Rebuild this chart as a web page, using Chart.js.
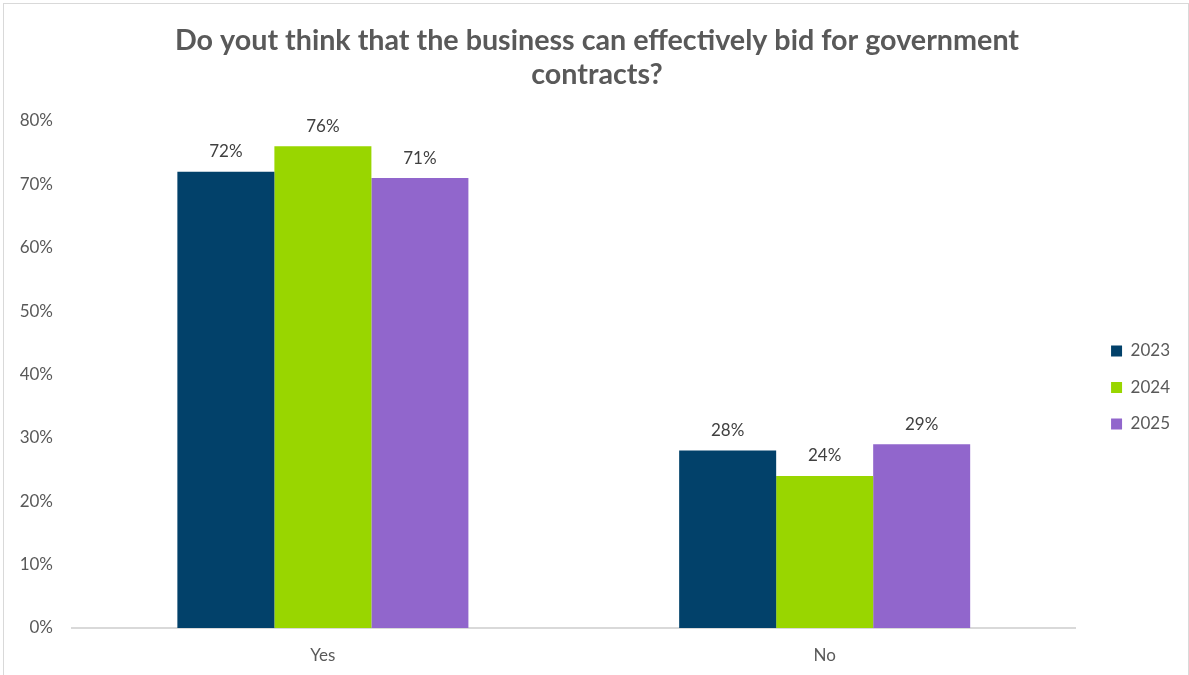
<!DOCTYPE html>
<html>
<head>
<meta charset="utf-8">
<title>Government contracts survey</title>
<script src="https://cdn.jsdelivr.net/npm/chart.js@4"></script>
<style>
    html, body { margin: 0; padding: 0; background: #fff; }
    #wrap { position: relative; width: 1189px; height: 675px; }
    #frame {
        position: absolute; left: 3px; top: 3px; width: 1184px; height: 680px;
        border: 1px solid #d9d9d9; pointer-events: none;
    }
</style>
</head>
<body>
<div id="wrap">
    <canvas id="surveyChart" width="1189" height="675"></canvas>
    <div id="frame"></div>
</div>
<script>
const categories = ['Yes', 'No'];
const years = ['2023', '2024', '2025'];
const values2023 = [72, 28];
const values2024 = [76, 24];
const values2025 = [71, 29];
const yearColors = ['#02416a', '#99d600', '#9166cc'];
const titleLines = ['Do yout think that the business can effectively bid for government', 'contracts?'];

const FONT = 'Lato';
const TEXT_GRAY = '#595959';
const TITLE_SIZE = 28.7;

// percentage labels above every bar
const barLabels = {
    id: 'barLabels',
    afterDatasetsDraw(chart) {
        const ctx = chart.ctx;
        ctx.save();
        ctx.font = '17px ' + FONT;
        ctx.fillStyle = '#404040';
        ctx.textAlign = 'center';
        ctx.textBaseline = 'middle';
        chart.data.datasets.forEach((ds, i) => {
            chart.getDatasetMeta(i).data.forEach((bar, j) => {
                ctx.fillText(ds.data[j] + '%', bar.x, bar.y - 20);
            });
        });
        ctx.restore();
    }
};

// push the legend away from the plot and below centre,
// and keep the title centred on the whole canvas
const layoutTweaks = {
    id: 'layoutTweaks',
    afterLayout(chart) {
        const lg = chart.legend;
        lg.left += 16; lg.right += 16;
        lg.top += 50; lg.bottom += 50;
        const tb = chart.titleBlock;
        tb.left += 15; tb.right += 15;
    }
};

const seriesValues = [values2023, values2024, values2025];

new Chart(document.getElementById('surveyChart').getContext('2d'), {
    type: 'bar',
    data: {
        labels: categories,
        datasets: years.map((y, i) => ({
            label: y,
            data: seriesValues[i],
            backgroundColor: yearColors[i],
            borderWidth: 0,
            barPercentage: 1.0,
            categoryPercentage: 0.58
        }))
    },
    plugins: [barLabels, layoutTweaks],
    options: {
        responsive: false,
        animation: false,
        layout: { padding: { left: 0, right: 25, top: 0, bottom: 0 } },
        scales: {
            y: {
                min: 0,
                max: 80,
                ticks: {
                    stepSize: 10,
                    padding: 19,
                    color: TEXT_GRAY,
                    font: { size: 17, family: FONT },
                    callback: v => v + '%'
                },
                grid: { display: false, drawTicks: false },
                border: { display: false },
                afterFit: scale => { scale.width = 72; }
            },
            x: {
                ticks: {
                    padding: 17,
                    color: TEXT_GRAY,
                    font: { size: 17, family: FONT }
                },
                grid: { display: false, drawTicks: false },
                border: { display: true, color: '#d9d9d9', width: 2 },
                afterFit: scale => { scale.height = 47; }
            }
        },
        plugins: {
            title: {
                display: true,
                text: titleLines,
                color: TEXT_GRAY,
                font: { size: TITLE_SIZE, family: FONT, weight: 'bold', lineHeight: 34 / TITLE_SIZE },
                padding: { top: 24, bottom: 29 }
            },
            legend: {
                position: 'right',
                labels: {
                    boxWidth: 11,
                    boxHeight: 11,
                    padding: 19.5,
                    color: TEXT_GRAY,
                    font: { size: 17, family: FONT }
                }
            },
            tooltip: { enabled: false }
        }
    }
});
</script>
</body>
</html>
